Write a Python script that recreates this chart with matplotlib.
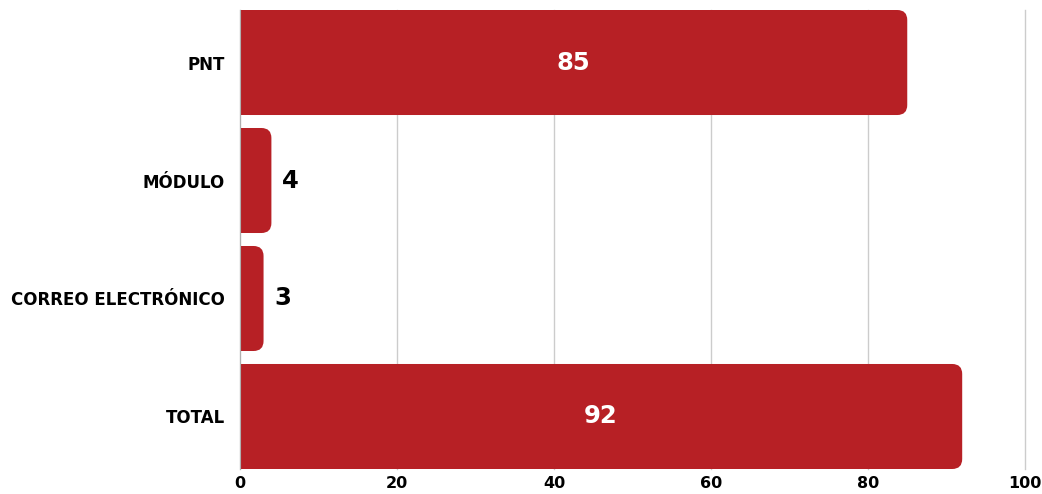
import matplotlib.pyplot as plt
from matplotlib.patches import FancyBboxPatch, Rectangle

# ── Data ──────────────────────────────────────────────────────────────────────
categories = ["PNT", "MÓDULO", "CORREO ELECTRÓNICO", "TOTAL"]
values = [85, 4, 3, 92]
x_ticks = [0, 20, 40, 60, 80, 100]

RED = "#B72025"
FONT = ["DejaVu Sans"]

fig = plt.figure(figsize=(10.42, 4.94), dpi=100)
ax = fig.add_axes([240 / 1042, 1 - 469 / 494, 785 / 1042, 459 / 494])

pos = list(range(len(categories)))
bars = ax.barh(pos, values, height=0.89, color=RED)

# swap the square bars for bars with rounded right end
px_x = 785 / 100
px_y = 459 / 3.89
r = 10 / px_x
for rect in bars:
    x, y = rect.get_x(), rect.get_y()
    w, h = rect.get_width(), rect.get_height()
    rect.set_visible(False)
    ax.add_patch(FancyBboxPatch((x, y), w, h,
                                boxstyle=f"round,pad=0,rounding_size={r}",
                                mutation_aspect=(10 / px_y) / r,
                                facecolor=RED, edgecolor="none", zorder=2))
    ax.add_patch(Rectangle((x, y), w / 2, h, facecolor=RED,
                           edgecolor="none", zorder=2))

for p, v in zip(pos, values):
    if v > 20:
        ax.text(v / 2, p, str(v), ha="center", va="center", color="white",
                fontsize=17.5, fontweight="heavy", family=FONT, zorder=3)
    else:
        ax.text(v + 1.4, p, str(v), ha="left", va="center", color="black",
                fontsize=17.5, fontweight="heavy", family=FONT, zorder=3)

ax.set_xlim(0, 100)
ax.set_ylim(3.445, -0.445)
ax.set_yticks(pos)
ax.set_yticklabels(categories)
ax.set_xticks(x_ticks)
ax.tick_params(length=0, labelsize=12)
ax.tick_params(axis="y", pad=11)
ax.tick_params(axis="x", pad=5, labelsize=11.5)
for lbl in ax.get_xticklabels() + ax.get_yticklabels():
    lbl.set_fontfamily(FONT)
    lbl.set_fontweight("bold")

ax.grid(axis="x", color="#cccccc", linewidth=1)
for gl in ax.get_xgridlines():
    gl.set_clip_on(False)
ax.set_axisbelow(True)
for s in ["top", "right", "bottom"]:
    ax.spines[s].set_visible(False)
ax.spines["left"].set_color("#b0b0b0")

fig.savefig("out.png", dpi=100)
